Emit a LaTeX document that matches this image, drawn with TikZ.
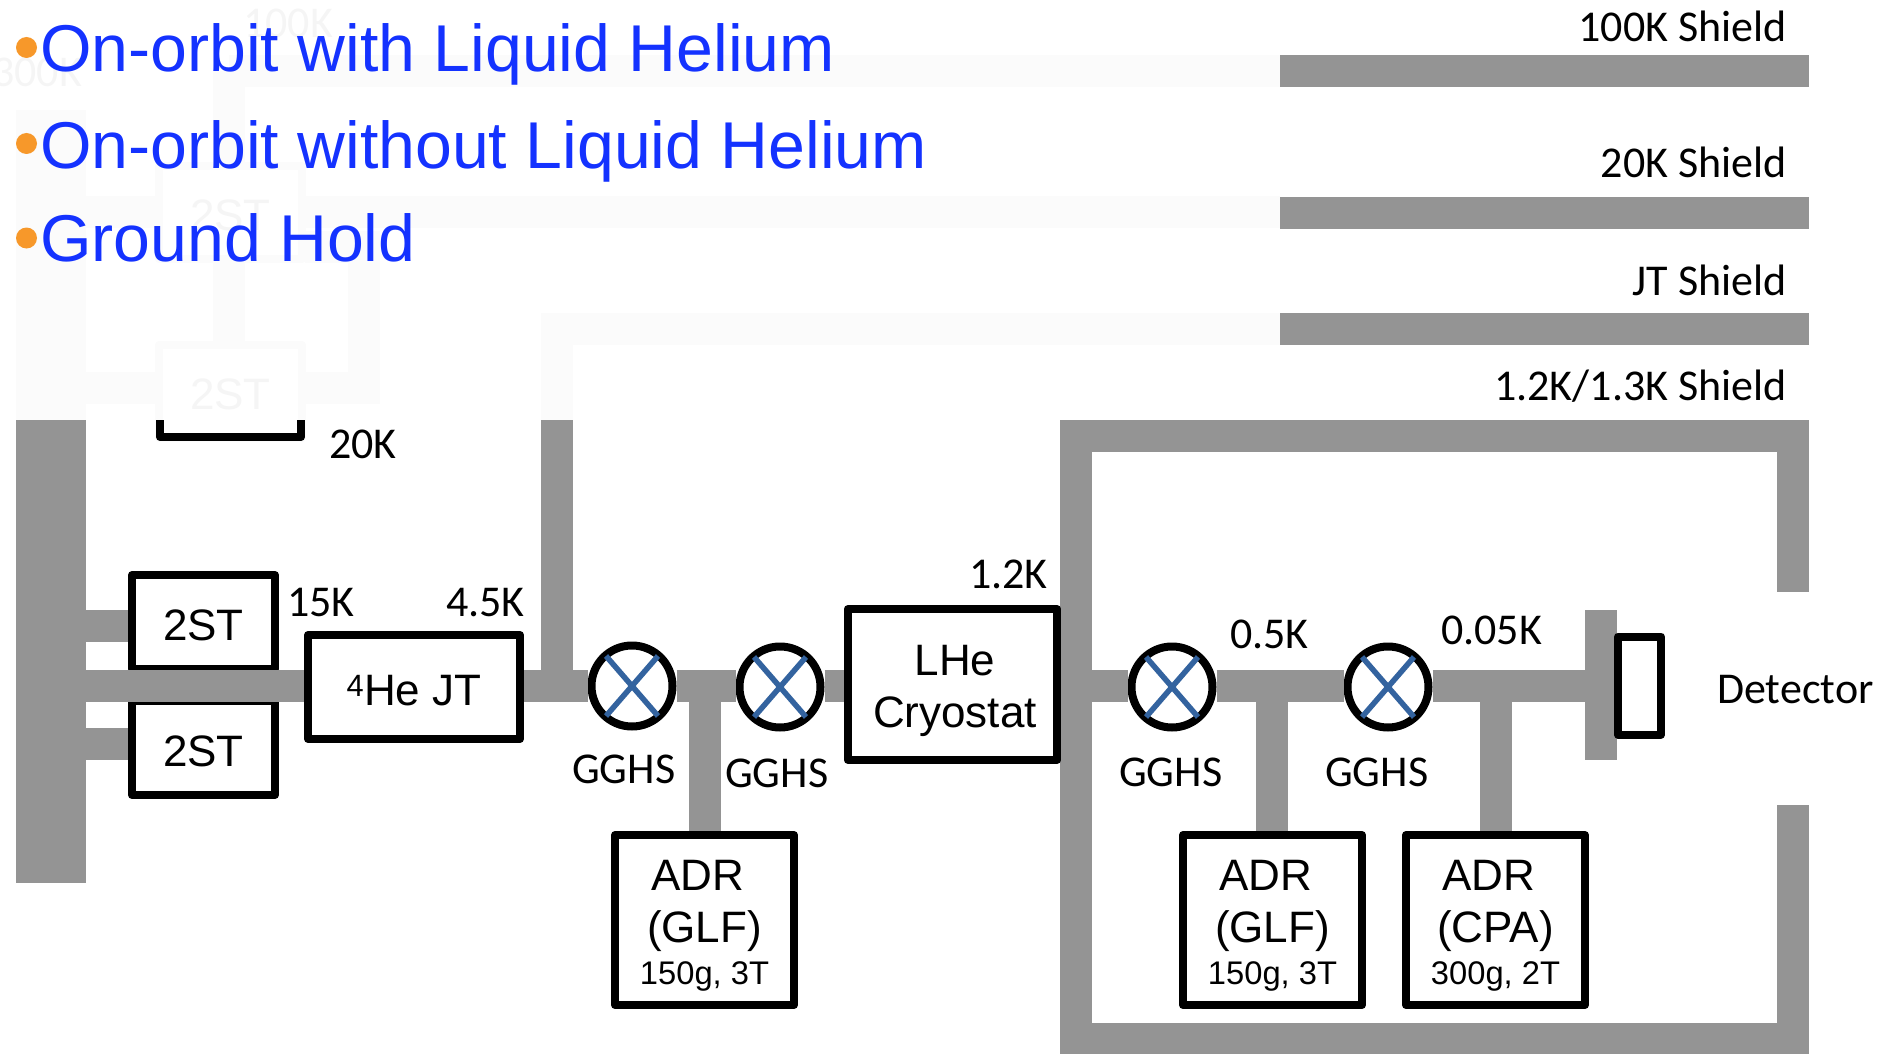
\documentclass[tikz,border=0pt]{standalone}
\usepackage{fontspec}
\setmainfont{Liberation Sans}
\newfontfamily\calib{Carlito}
\definecolor{bargray}{HTML}{949494}
\definecolor{ghostgray}{HTML}{FBFBFB}
\definecolor{ghosttext}{HTML}{F5F5F5}
\definecolor{headblue}{HTML}{1432FF}
\definecolor{bulletorange}{HTML}{F7982A}
\definecolor{crossblue}{HTML}{33639F}
\newcommand\lowerit[2]{\raisebox{-#1}[\height][\depth]{#2}}
\newcommand\adrtext[3]{\lowerit{7pt}{\begin{tabular}{@{}c@{}}\hspace*{-13pt}#1\\[0pt]#2\\[-10pt]\fontsize{32.7}{38}\selectfont #3\end{tabular}}}
\tikzset{
  x=1pt,y=-1pt,
  bar/.style={draw=bargray,line width=32pt,line cap=butt,line join=miter},
  ghostbar/.style={draw=ghostgray,line width=32pt,line cap=butt,line join=miter},
  box/.style={draw=black,fill=white,line width=8pt,line join=round,inner sep=0pt,font=\fontsize{44}{52}\selectfont,align=center},
  ghostbox/.style={draw=ghostgray,fill=white,line width=8pt,line join=round,inner sep=0pt,text=ghosttext,font=\fontsize{44}{52}\selectfont},
  valve/.style={circle,draw=black,fill=white,line width=8pt,minimum size=81pt,inner sep=0pt},
  xline/.style={draw=crossblue,line width=5.5pt},
  lbl/.style={font=\calib\fontsize{44}{50}\selectfont,inner sep=0pt,anchor=base west},
  lblr/.style={font=\calib\fontsize{44}{50}\selectfont,inner sep=0pt,anchor=base east},
  glbl/.style={font=\calib\fontsize{44}{50}\selectfont,inner sep=0pt,anchor=base west,text=ghosttext},
  head/.style={font=\fontsize{66.2}{80}\selectfont,text=headblue,inner sep=0pt,anchor=base west},
  bullet/.style={circle,fill=bulletorange,minimum size=21pt,inner sep=0pt},
}
\begin{document}
\begin{tikzpicture}
\useasboundingbox (0,0) rectangle (1893,1054);
% faded earlier layer
\node[glbl] (g300) at (-8,87) {300K};
\node[glbl] (g100) at (243,38) {100K};
\draw[ghostbar,line width=70pt] (51,110) -- (51,420);
\draw[ghostbar] (229,71) -- (1280,71);
\draw[ghostbar] (229,71) -- (229,342);
\draw[ghostbar] (86,212) -- (1280,212);
\draw[ghostbar] (305,247) -- (364,247) -- (364,388) -- (86,388);
\draw[ghostbar] (557,420) -- (557,329) -- (1280,329);
\node[ghostbox,minimum width=143pt,minimum height=93pt] (gst1) at (230.5,212.5) {\lowerit{3pt}{2ST}};
\node[ghostbox,minimum width=143pt,minimum height=93pt] (gst2) at (230.5,391.5) {\lowerit{3pt}{2ST}};
\draw[black,line width=8pt,line join=round] (160,420) -- (160,437) -- (301,437) -- (301,420);
\node[draw=none,fill=bargray,minimum width=70pt,minimum height=463pt,inner sep=0pt,outer sep=0pt] (cold) at (51,651.5) {};
% shields
\coordinate (sa) at (1280,71); \coordinate (sb) at (1809,71);
\coordinate (sc) at (1280,212.5); \coordinate (sd) at (1809,212.5);
\coordinate (se) at (557,420); \coordinate (sf) at (557,686);
\coordinate (sg) at (1280,329); \coordinate (sh) at (1809,329);
\draw[bar] (sa) -- (sb);
\draw[bar] (sc) -- (sd);
\draw[bar] (sg) -- (sh);
\draw[bar] (se) -- (sf);
% 1.2K enclosure
\coordinate (ea) at (1793,805); \coordinate (eb) at (1793,1038.5); \coordinate (ec) at (1076,1038.5);
\coordinate (ed) at (1076,436); \coordinate (ee) at (1793,436); \coordinate (ef) at (1793,592);
\draw[bar] (ea) -- (eb) -- (ec) -- (ed) -- (ee) -- (ef);
% plate
\coordinate (pa) at (1601,610); \coordinate (pb) at (1601,760); \coordinate (pm) at (1601,686);
\draw[bar] (pa) -- (pb);
% boxes
\node[box,minimum width=143pt,minimum height=94pt] (st1) at (203.5,622) {\lowerit{3.5pt}{2ST}};
\node[box,minimum width=143pt,minimum height=94pt] (st2) at (203.5,748) {\lowerit{3.5pt}{2ST}};
\node[box,minimum width=212pt,minimum height=104pt] (jt) at (414,687) {\lowerit{3.5pt}{\textsuperscript{4}He JT}};
\node[box,minimum width=209.5pt,minimum height=151pt] (lhe) at (952.5,684.5) {\hspace*{5pt}\lowerit{7pt}{\begin{tabular}{@{}c@{}}LHe\\Cryostat\end{tabular}}};
\node[box,minimum width=179pt,minimum height=170pt] (adr1) at (704.5,920) {\adrtext{ADR}{(GLF)}{150g, 3T}};
\node[box,minimum width=179pt,minimum height=170pt] (adr2) at (1272.5,920) {\adrtext{ADR}{(GLF)}{150g, 3T}};
\node[box,minimum width=179pt,minimum height=170pt] (adr3) at (1495.5,920) {\adrtext{ADR}{(CPA)}{300g, 2T}};
\node[box,minimum width=43pt,minimum height=98pt] (det) at (1639.5,685.5) {};
% valves
\node[valve] (v1) at (632,686) {};
\node[valve] (v2) at (780,687) {};
\node[valve] (v3) at (1172,687) {};
\node[valve] (v4) at (1388,687) {};
% gray links from node to node
\coordinate (m1) at (86,686);
\coordinate (m2) at (1092,686);
\draw[bar] (m1) -- (jt.west |- m1);
\draw[bar] (jt.east |- m1) -- (v1.west |- m1);
\draw[bar] (v1.east |- m1) -- (v2.west |- m1);
\draw[bar] (v2.east |- m1) -- (lhe.west |- m1);
\draw[bar] (m2) -- (v3.west |- m1);
\draw[bar] (v3.east |- m1) -- (v4.west |- m1);
\draw[bar] (v4.east |- m1) -- (pm);
\coordinate (c1) at (86,626); \coordinate (c2) at (86,744);
\draw[bar] (c1) -- (st1.west |- c1);
\draw[bar] (c2) -- (st2.west |- c2);
\coordinate (t1) at (705,702); \coordinate (t2) at (1272,702); \coordinate (t3) at (1496,702);
\draw[bar] (t1) -- (t1 |- adr1.north);
\draw[bar] (t2) -- (t2 |- adr2.north);
\draw[bar] (t3) -- (t3 |- adr3.north);
% crosses
\foreach \v in {v1,v2,v3,v4} {
  \draw[xline] (\v.center) +(-26,-30) -- +(26,30) +(26,-30) -- +(-26,30);
}
% labels
\node[lblr] (l100) at (1787,42) {100K Shield};
\node[lblr] (l20) at (1787,178) {20K Shield};
\node[lblr] (ljt) at (1787,295) {JT Shield};
\node[lblr] (l12) at (1787,400) {1.2K/1.3K Shield};
\node[lbl] (k20) at (329,458) {20K};
\node[lbl] (k15) at (287,616) {15K};
\node[lblr] (k45) at (525,616) {4.5K};
\node[lblr] (k12) at (1048,588) {1.2K};
\node[lbl] (k05) at (1230,648) {0.5K};
\node[lbl] (k005) at (1441,644) {0.05K};
\node[lbl] (tdet) at (1717,703) {Detector};
\node[lbl] (tg1) at (572,783) {GGHS};
\node[lbl] (tg2) at (725,787) {GGHS};
\node[lbl] (tg3) at (1119,786) {GGHS};
\node[lbl] (tg4) at (1325,786) {GGHS};
% heading
\node[bullet] (b1) at (26.5,47.5) {};
\node[bullet] (b2) at (26.5,143.5) {};
\node[bullet] (b3) at (26.5,238) {};
\node[head] (h1) at (40,72) {On-orbit with Liquid Helium};
\node[head] (h2) at (40,168) {On-orbit without Liquid Helium};
\node[head] (h3) at (40,261) {Ground Hold};
\end{tikzpicture}
\end{document}
